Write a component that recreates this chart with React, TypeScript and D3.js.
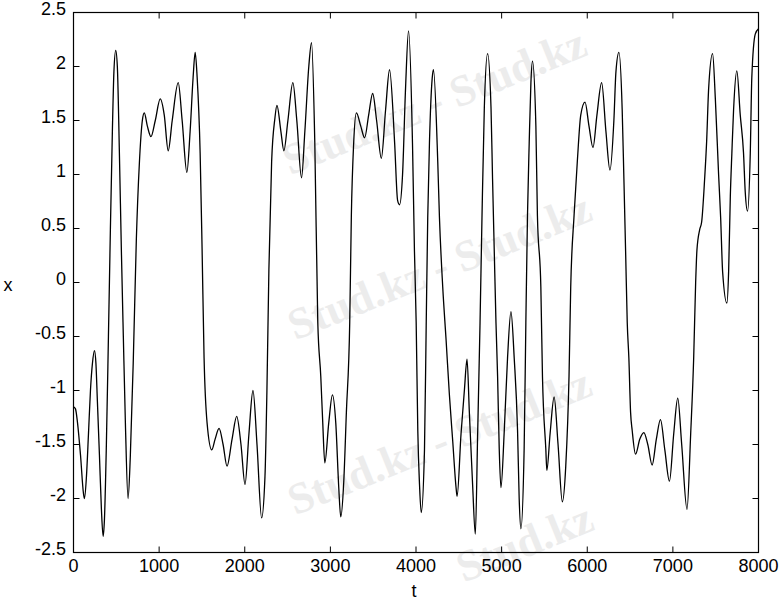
import React from "react";
import * as d3 from "d3";

const tValues = [0,23,47,82,116,128,151,175,198,221,245,262,279,303,326,346,361,384,408,431,454,472,493,512,536,559,582,606,637,664,699,734,769,804,827,862,905,955,1013,1060,1106,1153,1223,1269,1324,1362,1397,1421,1444,1479,1502,1525,1560,1615,1654,1700,1747,1793,1852,1906,1956,2003,2049,2096,2143,2197,2236,2259,2282,2314,2352,2376,2422,2457,2504,2562,2608,2663,2702,2748,2780,2818,2853,2888,2911,2935,2981,3024,3063,3098,3121,3156,3187,3226,3245,3272,3304,3354,3400,3447,3494,3540,3595,3645,3691,3750,3785,3808,3843,3878,3913,3959,3982,4002,4021,4041,4061,4099,4119,4137,4157,4189,4204,4254,4274,4312,4352,4390,4429,4468,4480,4526,4565,4596,4623,4661,4693,4720,4748,4771,4798,4836,4876,4894,4914,4934,4953,4972,4992,5031,5069,5109,5147,5186,5205,5225,5263,5283,5302,5322,5342,5360,5400,5418,5458,5477,5516,5528,5566,5613,5659,5709,5749,5787,5807,5846,5884,5924,5974,6020,6067,6113,6168,6218,6265,6311,6335,6370,6408,6428,6448,6467,6486,6506,6525,6564,6614,6661,6707,6758,6807,6855,6906,6960,7010,7057,7103,7165,7208,7243,7266,7281,7313,7336,7371,7394,7418,7464,7496,7534,7558,7581,7631,7651,7671,7689,7709,7747,7787,7825,7845,7872,7904,7922,7962,8000];

const xValues = [-1.15,-1.17,-1.3,-1.6,-1.95,-2.0,-1.8,-1.4,-1.0,-0.75,-0.63,-0.75,-1.1,-1.6,-2.1,-2.35,-2.2,-1.5,-0.5,0.5,1.4,1.95,2.15,2.0,1.2,0.3,-0.5,-1.3,-2.0,-1.6,-0.7,0.4,1.1,1.5,1.57,1.45,1.35,1.5,1.7,1.55,1.22,1.5,1.85,1.5,1.02,1.4,1.9,2.13,1.9,1.2,0.3,-0.7,-1.3,-1.55,-1.45,-1.35,-1.5,-1.7,-1.45,-1.24,-1.5,-1.87,-1.4,-1.0,-1.5,-2.18,-1.8,-1.0,0.12,1.12,1.52,1.64,1.4,1.22,1.5,1.85,1.5,0.97,1.4,2.0,2.22,1.3,-0.37,-0.87,-1.3,-1.67,-1.3,-1.04,-1.3,-1.9,-2.17,-1.85,-1.2,-0.37,0.62,1.29,1.57,1.45,1.34,1.55,1.75,1.5,1.15,1.6,1.97,1.3,0.76,0.72,1.0,1.8,2.33,1.29,0.29,-0.37,-1.37,-1.87,-2.13,-1.55,-0.4,0.6,1.29,1.89,1.97,1.12,0.6,-0.04,-0.54,-1.04,-1.47,-1.9,-1.98,-1.4,-1.0,-0.71,-1.2,-1.87,-2.33,-1.4,-0.37,0.62,1.62,2.12,1.62,0.96,0.29,-0.37,-0.87,-1.54,-1.9,-1.37,-0.7,-0.27,-0.7,-1.37,-2.0,-2.28,-1.54,-0.37,0.62,1.29,1.85,2.05,1.45,0.62,-0.04,-0.87,-1.54,-1.74,-1.4,-1.06,-1.5,-2.03,-1.7,-0.87,-0.04,0.62,1.12,1.55,1.67,1.45,1.25,1.55,1.85,1.4,1.04,1.5,1.95,2.13,1.6,0.96,0.29,-0.37,-0.7,-1.2,-1.37,-1.59,-1.45,-1.39,-1.5,-1.69,-1.45,-1.27,-1.55,-1.84,-1.4,-1.07,-1.5,-2.1,-1.4,-0.7,0.0,0.3,0.49,0.56,0.96,1.3,1.8,2.12,1.7,1.0,0.6,0.1,-0.19,0.1,0.8,1.2,1.6,1.96,1.55,1.2,0.84,0.66,1.2,1.9,2.3,2.35];

const xTicks = [0, 1000, 2000, 3000, 4000, 5000, 6000, 7000, 8000];
const yTicks = [-2.5, -2, -1.5, -1, -0.5, 0, 0.5, 1, 1.5, 2, 2.5];

const watermarks = [
  { text: "Stud.kz - Stud.kz", x: 440, y: 115 },
  { text: "Stud.kz - Stud.kz", x: 445, y: 280 },
  { text: "Stud.kz - Stud.kz", x: 445, y: 455 },
  { text: "Stud.kz", x: 530, y: 556 },
];

export default function App() {
  const W = 782, H = 600;
  const left = 73.5, right = 758.5, top = 12.5, bottom = 552.5;
  const xs = d3.scaleLinear().domain([0, 8000]).range([left, right]);
  const ys = d3.scaleLinear().domain([-2.5, 2.5]).range([bottom, top]);
  const data = tValues.map((t, i) => [t, xValues[i]] as [number, number]);
  const line = d3.line<[number, number]>()
    .x(d => xs(d[0]))
    .y(d => ys(d[1]))
    .curve(d3.curveMonotoneX);
  const font = "'Liberation Sans', Arial, Helvetica, sans-serif";
  const tl = 6;
  return (
    <svg width={W} height={H} style={{ position: "absolute", left: 0, top: 0 }}>
      <rect x={0} y={0} width={W} height={H} fill="#fff" />
      {watermarks.map((w, i) => (
        <text key={i} x={w.x} y={w.y} transform={`rotate(-22 ${w.x} ${w.y})`} textAnchor="middle"
          fontFamily="'Liberation Serif', serif" fontWeight="bold" fontSize={44} fill="#ececec">{w.text}</text>
      ))}
      <path d={line(data) || ""} fill="none" stroke="#000" strokeWidth={1.3} strokeLinejoin="round" />
      <rect x={left} y={top} width={right - left} height={bottom - top} fill="none" stroke="#000" strokeWidth={1.2} />
      {xTicks.map(t => (
        <g key={"x" + t}>
          <line x1={xs(t)} x2={xs(t)} y1={bottom} y2={bottom - tl} stroke="#000" />
          <line x1={xs(t)} x2={xs(t)} y1={top} y2={top + tl} stroke="#000" />
          <text x={xs(t)} y={572} textAnchor="middle" fontFamily={font} fontSize={18}>{t}</text>
        </g>
      ))}
      {yTicks.map(v => (
        <g key={"y" + v}>
          <line x1={left} x2={left + tl} y1={ys(v)} y2={ys(v)} stroke="#000" />
          <line x1={right} x2={right - tl} y1={ys(v)} y2={ys(v)} stroke="#000" />
          <text x={66} y={ys(v) - 2} textAnchor="end" dominantBaseline="middle" fontFamily={font} fontSize={18}>{v}</text>
        </g>
      ))}
      <text x={414} y={597} textAnchor="middle" fontFamily={font} fontSize={18}>t</text>
      <text x={8} y={286} textAnchor="middle" dominantBaseline="middle" fontFamily={font} fontSize={18}>x</text>
    </svg>
  );
}
